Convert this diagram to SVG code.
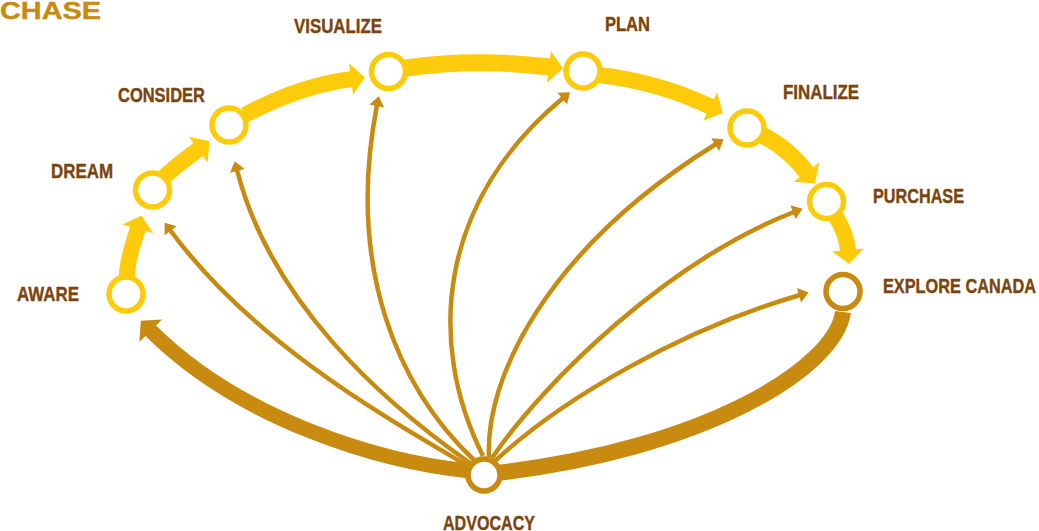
<svg xmlns="http://www.w3.org/2000/svg" width="1039" height="531" viewBox="0 0 1039 531">
<style>
.y{fill:none;stroke:#FECB0A;stroke-width:16}
.b{fill:none;stroke:#C98A10;stroke-width:15}
.t{fill:none;stroke:#C98A10;stroke-width:4.5}
.ny{fill:#fff;stroke:#FECB0A;stroke-width:5.5}
.nb{fill:#fff;stroke:#C98A10;stroke-width:5.5}
.lb{font-family:"Liberation Sans Narrow","Liberation Sans",Arial,sans-serif;font-weight:bold;font-size:21px;fill:#7A440C;stroke:#7A440C;stroke-width:0.4}
.hd{font-family:"Liberation Sans Narrow","Liberation Sans",Arial,sans-serif;font-weight:bold;font-size:24px;fill:#C98A10;stroke:#C98A10;stroke-width:0.4}
</style>
<defs>
<marker id="yh" markerUnits="userSpaceOnUse" viewBox="-1 -17 16 34" markerWidth="16" markerHeight="34" refX="0" refY="0" orient="auto" overflow="visible"><path d="M-1,-16 L13,0 L-1,16 z" fill="#FECB0A"/></marker>
<marker id="bh" markerUnits="userSpaceOnUse" viewBox="-1 -17 16 34" markerWidth="16" markerHeight="34" refX="0" refY="0" orient="auto" overflow="visible"><path d="M-1,-16 L13,0 L-1,16 z" fill="#C98A10"/></marker>
<marker id="th" markerUnits="userSpaceOnUse" viewBox="-1 -8 11 16" markerWidth="11" markerHeight="16" refX="0" refY="0" orient="auto" overflow="visible"><path d="M-1,-7.5 L9,0 L-1,7.5 z" fill="#C98A10"/></marker>
</defs>
<text class="hd" x="0" y="18.5" textLength="101" lengthAdjust="spacingAndGlyphs">CHASE</text>
<g id="connectors">
<path class="y" d="M127,276 C127,258 134,242 138,228" marker-end="url(#yh)"/>
<path class="y" d="M164,177 C175,167 188,157 199,149" marker-end="url(#yh)"/>
<path class="y" d="M245,115 C282,95 320,83 352,79" marker-end="url(#yh)"/>
<path class="y" style="stroke-width:17" d="M406,68 Q475,58 550,67" marker-end="url(#yh)"/>
<path class="y" d="M600,75 C640,80 680,92 711,107" marker-end="url(#yh)"/>
<path class="y" style="stroke-width:17" d="M762,135 C780,144 795,157 807,173" marker-end="url(#yh)"/>
<path class="y" d="M836,217 C843,228 847,240 848,251" marker-end="url(#yh)"/>
<path class="b" d="M470,471 C380,462 240,420 150,330" marker-end="url(#bh)"/>
<path class="b" style="stroke-width:16" d="M843,312 C835,370 700,450 496,473"/>
<path class="t" d="M468,466 C390,420 255,345 170,230" marker-end="url(#th)"/>
<path class="t" d="M470,463 C380,400 270,300 237,170" marker-end="url(#th)"/>
<path class="t" d="M474,460 C400,390 345,270 377,105" marker-end="url(#th)"/>
<path class="t" d="M483,456 C425,340 440,200 563,98" marker-end="url(#th)"/>
<path class="t" d="M489,457 C485,380 545,250 716,144" marker-end="url(#th)"/>
<path class="t" d="M492,458 C545,380 670,260 794,212" marker-end="url(#th)"/>
<path class="t" d="M494,462 C560,400 680,330 800,295" marker-end="url(#th)"/>
</g>
<g id="aware"><circle class="ny" cx="126" cy="294" r="17"/><text class="lb" x="17" y="300.5" textLength="62" lengthAdjust="spacingAndGlyphs">AWARE</text></g>
<g id="dream"><circle class="ny" cx="152.5" cy="190" r="17"/><text class="lb" x="51" y="177.5" textLength="62" lengthAdjust="spacingAndGlyphs">DREAM</text></g>
<g id="consider"><circle class="ny" cx="229" cy="125" r="17"/><text class="lb" x="118" y="101.5" textLength="87" lengthAdjust="spacingAndGlyphs">CONSIDER</text></g>
<g id="visualize"><circle class="ny" cx="388.5" cy="71.5" r="17"/><text class="lb" x="294" y="33" textLength="88" lengthAdjust="spacingAndGlyphs">VISUALIZE</text></g>
<g id="plan"><circle class="ny" cx="583" cy="71" r="17"/><text class="lb" x="605" y="30.5" textLength="45" lengthAdjust="spacingAndGlyphs">PLAN</text></g>
<g id="finalize"><circle class="ny" cx="747" cy="128" r="17"/><text class="lb" x="783" y="99" textLength="76" lengthAdjust="spacingAndGlyphs">FINALIZE</text></g>
<g id="purchase"><circle class="ny" cx="826.5" cy="201.5" r="17"/><text class="lb" x="873" y="203" textLength="91" lengthAdjust="spacingAndGlyphs">PURCHASE</text></g>
<g id="explore-canada"><circle class="nb" cx="843" cy="291.5" r="17"/><text class="lb" x="883" y="293" textLength="153" lengthAdjust="spacingAndGlyphs">EXPLORE CANADA</text></g>
<g id="advocacy"><circle class="nb" cx="484" cy="475" r="16"/><text class="lb" x="443" y="529.5" textLength="92" lengthAdjust="spacingAndGlyphs">ADVOCACY</text></g>
</svg>
